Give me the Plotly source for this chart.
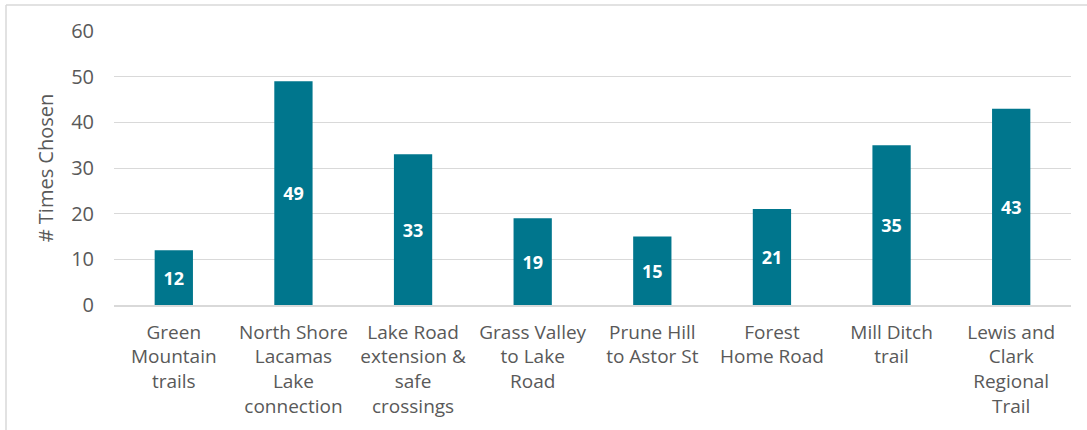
import plotly.graph_objects as go

# Trail projects and how many times each was chosen
projects = [
    "Green<br>Mountain<br>trails",
    "North Shore<br>Lacamas<br>Lake<br>connection",
    "Lake Road<br>extension &amp;<br>safe<br>crossings",
    "Grass Valley<br>to Lake<br>Road",
    "Prune Hill<br>to Astor St",
    "Forest<br>Home Road",
    "Mill Ditch<br>trail",
    "Lewis and<br>Clark<br>Regional<br>Trail",
]
times_chosen = [12, 49, 33, 19, 15, 21, 35, 43]
y_ticks = [0, 10, 20, 30, 40, 50, 60]

BAR = "#00768D"
TEXT = "#595959"
GRID = "#D9D9D9"
FONT = "Open Sans"

fig = go.Figure(
    go.Bar(
        x=projects,
        y=times_chosen,
        marker=dict(color=BAR, line=dict(width=0)),
        text=[str(v) for v in times_chosen],
        textposition="inside",
        insidetextanchor="middle",
        textfont=dict(family=FONT, size=18, color="white", weight="bold"),
        width=0.32,
    )
)

L, R, T, B = 114, 16, 31, 125
W, H = 1087, 430
pw = W - L - R
ph = H - T - B

fig.update_layout(
    width=W,
    height=H,
    margin=dict(l=L, r=R, t=T, b=B),
    paper_bgcolor="white",
    plot_bgcolor="white",
    showlegend=False,
    font=dict(family=FONT, color=TEXT, size=19),
    uniformtext=dict(mode=False),
)
fig.update_xaxes(
    showgrid=False,
    showline=True,
    linecolor=GRID,
    linewidth=1.5,
    ticks="",
    ticklabelstandoff=9,
    tickfont=dict(size=19, color=TEXT),
    tickangle=0,
)
fig.update_yaxes(
    range=[0, 60],
    tickvals=y_ticks,
    showgrid=True,
    gridcolor=GRID,
    gridwidth=1,
    zeroline=False,
    showline=False,
    ticks="",
    ticklabelstandoff=19,
    tickfont=dict(size=20, color=TEXT),
    title=dict(text="# Times Chosen", font=dict(size=20, color=TEXT), standoff=12),
)

# Thin frame along the top and left edges of the chart area
x_left = (6 - L) / pw
y_top = 1 + (T - 5) / ph
y_bottom = -(H - T - ph) / ph - 0.01
fig.add_shape(type="line", xref="paper", yref="paper", x0=x_left, x1=(W - L) / pw,
              y0=y_top, y1=y_top, line=dict(color=GRID, width=1.5))
fig.add_shape(type="line", xref="paper", yref="paper", x0=x_left, x1=x_left,
              y0=y_bottom, y1=y_top, line=dict(color=GRID, width=1.5))

fig.write_html("out.html")
